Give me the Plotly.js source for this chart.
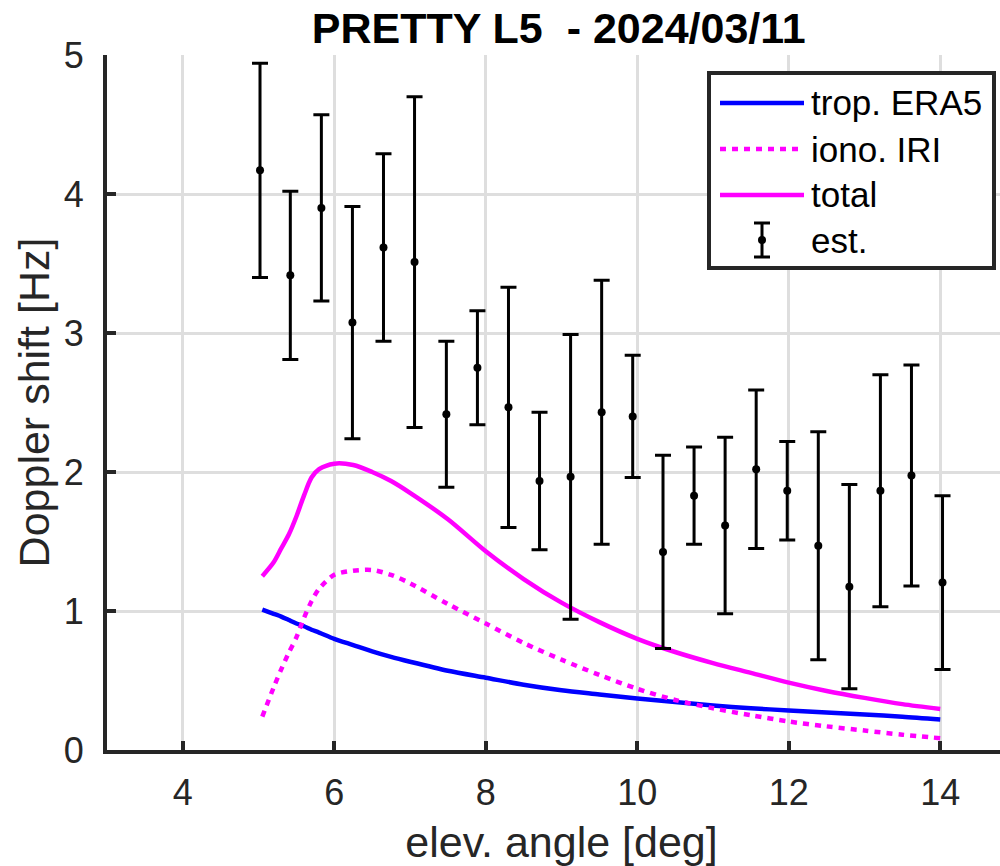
<!DOCTYPE html>
<html>
<head>
<meta charset="utf-8">
<script src="https://cdn.plot.ly/plotly-3.0.1.min.js"></script>
<style>
html,body{margin:0;padding:0;overflow:hidden;background:#fff;}
#chart{width:1040px;height:866px;}
</style>
</head>
<body>
<div id="chart"></div>
<script>
// ---- data ----
const xEst = [5.02, 5.42, 5.83, 6.24, 6.65, 7.06, 7.48, 7.89, 8.30, 8.71, 9.12, 9.53, 9.94, 10.34, 10.75, 11.16, 11.57, 11.98, 12.39, 12.80, 13.21, 13.62, 14.03];
const yEst = [4.17, 3.415, 3.90, 3.075, 3.615, 3.51, 2.415, 2.75, 2.465, 1.935, 1.965, 2.43, 2.40, 1.425, 1.83, 1.615, 2.02, 1.865, 1.47, 1.175, 1.865, 1.975, 1.205];
const errEst = [0.77, 0.605, 0.67, 0.835, 0.675, 1.19, 0.525, 0.41, 0.865, 0.495, 1.025, 0.95, 0.44, 0.695, 0.35, 0.635, 0.57, 0.355, 0.82, 0.735, 0.835, 0.795, 0.625];

const xModel = [5.05, 5.2, 5.3, 5.4, 5.5, 5.6, 5.7, 5.8, 6.0, 6.25, 6.5, 6.75, 7.0, 7.5, 8.0, 8.5, 9.0, 9.5, 10.0, 10.5, 11.0, 11.5, 12.0, 12.5, 13.0, 13.5, 14.0];
const tropERA5 = [1.01, 0.98, 0.96, 0.935, 0.91, 0.89, 0.865, 0.845, 0.80, 0.755, 0.71, 0.67, 0.635, 0.57, 0.52, 0.47, 0.43, 0.40, 0.37, 0.345, 0.32, 0.30, 0.285, 0.27, 0.255, 0.24, 0.22];
const ionoIRI = [0.24, 0.45, 0.58, 0.70, 0.81, 0.95, 1.07, 1.16, 1.26, 1.29, 1.295, 1.26, 1.20, 1.05, 0.91, 0.77, 0.65, 0.54, 0.44, 0.36, 0.30, 0.25, 0.205, 0.17, 0.14, 0.11, 0.085];
const totalShift = [1.25, 1.35, 1.45, 1.55, 1.68, 1.83, 1.96, 2.02, 2.06, 2.05, 2.00, 1.935, 1.85, 1.66, 1.43, 1.23, 1.06, 0.92, 0.80, 0.705, 0.625, 0.555, 0.485, 0.425, 0.375, 0.33, 0.295];

const legendLabels = ['trop. ERA5', 'iono. IRI', 'total', 'est.'];
const titleText = 'PRETTY L5\u00a0\u00a0- 2024/03/11';

// ---- layout geometry ----
const W = 1040, H = 866;
const M = {l: 107, r: 24, t: 55, b: 116};
const PW = W - M.l - M.r, PH = H - M.t - M.b;
const px = v => (v - M.l) / PW;          // page px -> paper x
const py = v => (H - M.b - v) / PH;      // page px -> paper y

const axisCol = '#262626';
const font = 'Liberation Sans, Arial, Helvetica, sans-serif';

const traces = [
  {x: xModel, y: tropERA5, mode: 'lines', name: legendLabels[0],
   line: {color: '#0000ff', width: 4.5, shape: 'spline', smoothing: 0.8}},
  {x: xModel, y: ionoIRI, mode: 'lines', name: legendLabels[1],
   line: {color: '#ff00ff', width: 4.5, dash: '6px,6px', shape: 'spline', smoothing: 0.8}},
  {x: xModel, y: totalShift, mode: 'lines', name: legendLabels[2],
   line: {color: '#ff00ff', width: 4.5, shape: 'spline', smoothing: 0.8}},
  {x: xEst, y: yEst, mode: 'markers', name: legendLabels[3],
   marker: {color: '#000', size: 8},
   error_y: {type: 'data', array: errEst, visible: true, color: '#000', thickness: 3, width: 8}}
];

// custom legend (MATLAB style)
const lg = {x0: 709, x1: 994, y0: 73, y1: 268};
const rows = [103, 149, 195, 240];
const shapes = [
  {type: 'rect', xref: 'paper', yref: 'paper', x0: px(lg.x0), x1: px(lg.x1), y0: py(lg.y1), y1: py(lg.y0),
   fillcolor: '#fff', line: {color: axisCol, width: 4}, layer: 'above'},
  {type: 'line', xref: 'paper', yref: 'paper', x0: px(720), x1: px(804), y0: py(rows[0]), y1: py(rows[0]),
   line: {color: '#0000ff', width: 4.5}, layer: 'above'},
  {type: 'line', xref: 'paper', yref: 'paper', x0: px(720), x1: px(804), y0: py(rows[1]), y1: py(rows[1]),
   line: {color: '#ff00ff', width: 4.5, dash: '6px,6px'}, layer: 'above'},
  {type: 'line', xref: 'paper', yref: 'paper', x0: px(720), x1: px(804), y0: py(rows[2]), y1: py(rows[2]),
   line: {color: '#ff00ff', width: 4.5}, layer: 'above'},
  {type: 'line', xref: 'paper', yref: 'paper', x0: px(762), x1: px(762), y0: py(rows[3] - 17), y1: py(rows[3] + 17),
   line: {color: '#000', width: 3}, layer: 'above'},
  {type: 'line', xref: 'paper', yref: 'paper', x0: px(754), x1: px(770), y0: py(rows[3] - 17), y1: py(rows[3] - 17),
   line: {color: '#000', width: 3}, layer: 'above'},
  {type: 'line', xref: 'paper', yref: 'paper', x0: px(754), x1: px(770), y0: py(rows[3] + 17), y1: py(rows[3] + 17),
   line: {color: '#000', width: 3}, layer: 'above'},
  {type: 'circle', xref: 'paper', yref: 'paper', x0: px(758), x1: px(766), y0: py(rows[3] + 4), y1: py(rows[3] - 4),
   fillcolor: '#000', line: {color: '#000', width: 0}, layer: 'above'}
];
const annotations = legendLabels.map((t, i) => ({
  text: t, xref: 'paper', yref: 'paper', x: px(809), y: py(rows[i]),
  xanchor: 'left', yanchor: 'middle', showarrow: false,
  font: {family: font, size: 35, color: '#000'}
}));

const layout = {
  width: W, height: H,
  margin: M,
  paper_bgcolor: '#fff', plot_bgcolor: '#fff',
  showlegend: false,
  title: {text: '<b>' + titleText + '</b>', x: 0.497, xref: 'paper', y: 1 - 28 / H, yref: 'container',
          yanchor: 'middle', font: {family: font, size: 43, color: '#000'}},
  xaxis: {
    range: [3, 15], tickvals: [4, 6, 8, 10, 12, 14], ticktext: ['4', '6', '8', '10', '12', '14'],
    showgrid: true, gridcolor: '#dedede', gridwidth: 3, zeroline: false,
    showline: true, linecolor: axisCol, linewidth: 4,
    ticks: 'inside', ticklen: 9, tickwidth: 4, tickcolor: axisCol,
    ticklabelstandoff: 8,
    tickfont: {family: font, size: 36, color: axisCol},
    title: {text: 'elev. angle [deg]', font: {family: font, size: 43, color: axisCol}, standoff: 22}
  },
  yaxis: {
    range: [0, 5], tickvals: [0, 1, 2, 3, 4, 5], ticktext: ['0', '1', '2', '3', '4', '5'],
    showgrid: true, gridcolor: '#dedede', gridwidth: 3, zeroline: false,
    showline: true, linecolor: axisCol, linewidth: 4,
    ticks: 'inside', ticklen: 9, tickwidth: 4, tickcolor: axisCol,
    ticklabelstandoff: 12,
    tickfont: {family: font, size: 36, color: axisCol},
    title: {text: 'Doppler shift [Hz]', font: {family: font, size: 43, color: axisCol}, standoff: 2}
  },
  shapes: shapes,
  annotations: annotations
};

Plotly.newPlot('chart', traces, layout, {staticPlot: true, displayModeBar: false});
</script>
</body>
</html>
